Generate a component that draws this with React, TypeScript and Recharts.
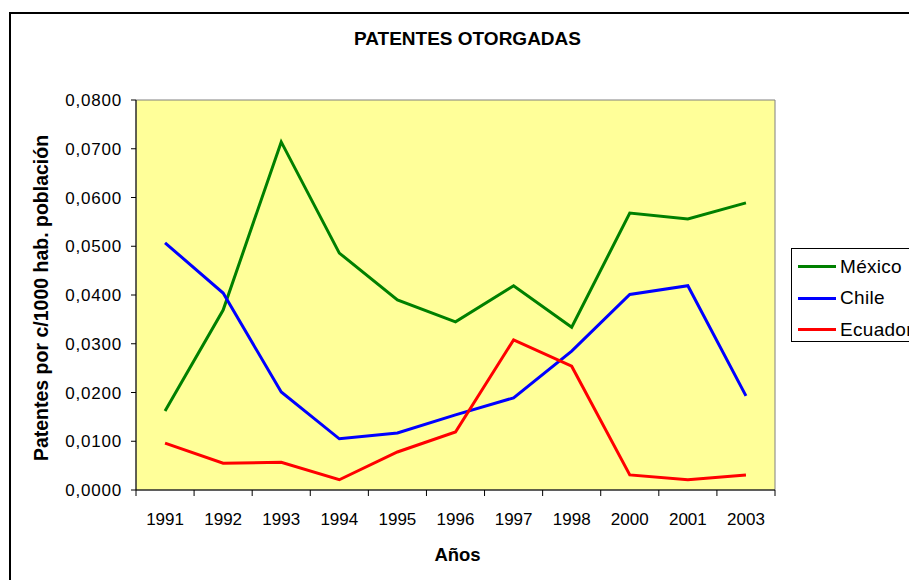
import React from 'react';
import {
    LineChart,
    Line,
    XAxis,
    YAxis,
    ReferenceArea,
    Legend,
    Label,
} from 'recharts';

// Data
const years = ['1991', '1992', '1993', '1994', '1995', '1996', '1997', '1998', '2000', '2001', '2003'];
const mexico = [0.0162, 0.0369, 0.0714, 0.0486, 0.039, 0.0345, 0.0419, 0.0334, 0.0568, 0.0556, 0.0589];
const chile = [0.0507, 0.0404, 0.0201, 0.0105, 0.0117, 0.0154, 0.0189, 0.0285, 0.0401, 0.0419, 0.0193];
const ecuador = [0.0096, 0.0055, 0.0057, 0.0021, 0.0078, 0.0119, 0.0308, 0.0254, 0.0031, 0.0021, 0.0031];
const yTicks = [0, 0.01, 0.02, 0.03, 0.04, 0.05, 0.06, 0.07, 0.08];

const series = [
    { key: 'mexico', name: 'México', color: '#008000' },
    { key: 'chile', name: 'Chile', color: '#0000FF' },
    { key: 'ecuador', name: 'Ecuador', color: '#FF0000' },
];

const data = years.map((year, i) => ({
    idx: i,
    year,
    mexico: mexico[i],
    chile: chile[i],
    ecuador: ecuador[i],
}));

const W = 909;
const H = 580;
const margin = { top: 100, right: 134, bottom: 0, left: 0 };
const plotW = W - 136 - margin.right;
const halfBand = plotW / years.length / 2;
const font = '"Liberation Sans", Arial, sans-serif';

// year label at band centre, separator tick at band edge
const YearTick = (props: any) => {
    const { x, y, payload, index } = props;
    const last = index === years.length - 1;
    return (
        <g>
            <line x1={x - halfBand} x2={x - halfBand} y1={y} y2={y + 6} stroke="#000" />
            {last && <line x1={x + halfBand} x2={x + halfBand} y1={y} y2={y + 6} stroke="#000" />}
            <text x={x} y={y + 35} textAnchor="middle" fontSize={17} fontFamily={font} fill="#000">
                {years[payload.value]}
            </text>
        </g>
    );
};

const LegendBox = () => (
    <div
        style={{
            border: '1px solid #000',
            background: '#fff',
            width: 140,
            height: 94,
            boxSizing: 'border-box',
            padding: '2px 0 0 6px',
            fontFamily: font,
            fontSize: 19,
            letterSpacing: 0.3,
        }}
    >
        {series.map((s) => (
            <div key={s.key} style={{ display: 'flex', alignItems: 'center', height: 31.5 }}>
                <div style={{ width: 38, height: 3, background: s.color, marginRight: 4 }} />
                <span>{s.name}</span>
            </div>
        ))}
    </div>
);

export default function App() {
    return (
        <div
            style={{
                position: 'fixed',
                left: 0,
                top: 0,
                width: W,
                height: H,
                overflow: 'hidden',
                background: '#fff',
            }}
        >
            <div
                style={{
                    position: 'absolute',
                    left: 9,
                    top: 12,
                    width: 1000,
                    height: 1000,
                    border: '2px solid #000',
                }}
            />
            <div
                style={{
                    position: 'absolute',
                    left: 0,
                    width: 935,
                    top: 28,
                    textAlign: 'center',
                    fontFamily: font,
                    fontWeight: 'bold',
                    fontSize: 19,
                }}
            >
                PATENTES OTORGADAS
            </div>
            <div style={{ position: 'absolute', left: 0, top: 0 }}>
                <LineChart width={W} height={H} data={data} margin={margin}>
                    <ReferenceArea
                        x1={-0.5}
                        x2={10.5}
                        y1={0}
                        y2={0.08}
                        fill="#FFFF99"
                        fillOpacity={1}
                        stroke="#808080"
                        strokeWidth={1}
                        ifOverflow="visible"
                    />
                    <XAxis
                        dataKey="idx"
                        type="number"
                        domain={[-0.5, 10.5]}
                        ticks={years.map((_, i) => i)}
                        interval={0}
                        height={90}
                        tickLine={false}
                        tickSize={0}
                        tickMargin={0}
                        tick={<YearTick />}
                        axisLine={{ stroke: '#000' }}
                    >
                        <Label
                            content={() => (
                                <text
                                    x={136 + plotW / 2 + 2}
                                    y={561}
                                    textAnchor="middle"
                                    fontSize={18.5}
                                    fontWeight="bold"
                                    fontFamily={font}
                                    fill="#000"
                                >
                                    Años
                                </text>
                            )}
                        />
                    </XAxis>
                    <YAxis
                        type="number"
                        domain={[0, 0.08]}
                        ticks={yTicks}
                        interval={0}
                        width={136}
                        tickSize={5}
                        tickMargin={9}
                        tickFormatter={(v: number) => v.toFixed(4).replace('.', ',')}
                        tick={{ fill: '#000', fontSize: 17, fontFamily: font, letterSpacing: 0.8 }}
                        axisLine={{ stroke: '#000' }}
                        tickLine={{ stroke: '#000' }}
                    >
                        <Label
                            content={() => (
                                <text
                                    transform="translate(48,298) rotate(-90)"
                                    textAnchor="middle"
                                    fontSize={19.5}
                                    fontWeight="bold"
                                    fontFamily={font}
                                    fill="#000"
                                >
                                    Patentes por c/1000 hab. población
                                </text>
                            )}
                        />
                    </YAxis>
                    {series.map((s) => (
                        <Line
                            key={s.key}
                            dataKey={s.key}
                            name={s.name}
                            stroke={s.color}
                            strokeWidth={3}
                            dot={false}
                            type="linear"
                            isAnimationActive={false}
                        />
                    ))}
                    <Legend
                        layout="vertical"
                        align="center"
                        verticalAlign="middle"
                        content={<LegendBox />}
                        wrapperStyle={{ position: 'absolute', left: 791, top: 248, width: 140 }}
                    />
                </LineChart>
            </div>
        </div>
    );
}
